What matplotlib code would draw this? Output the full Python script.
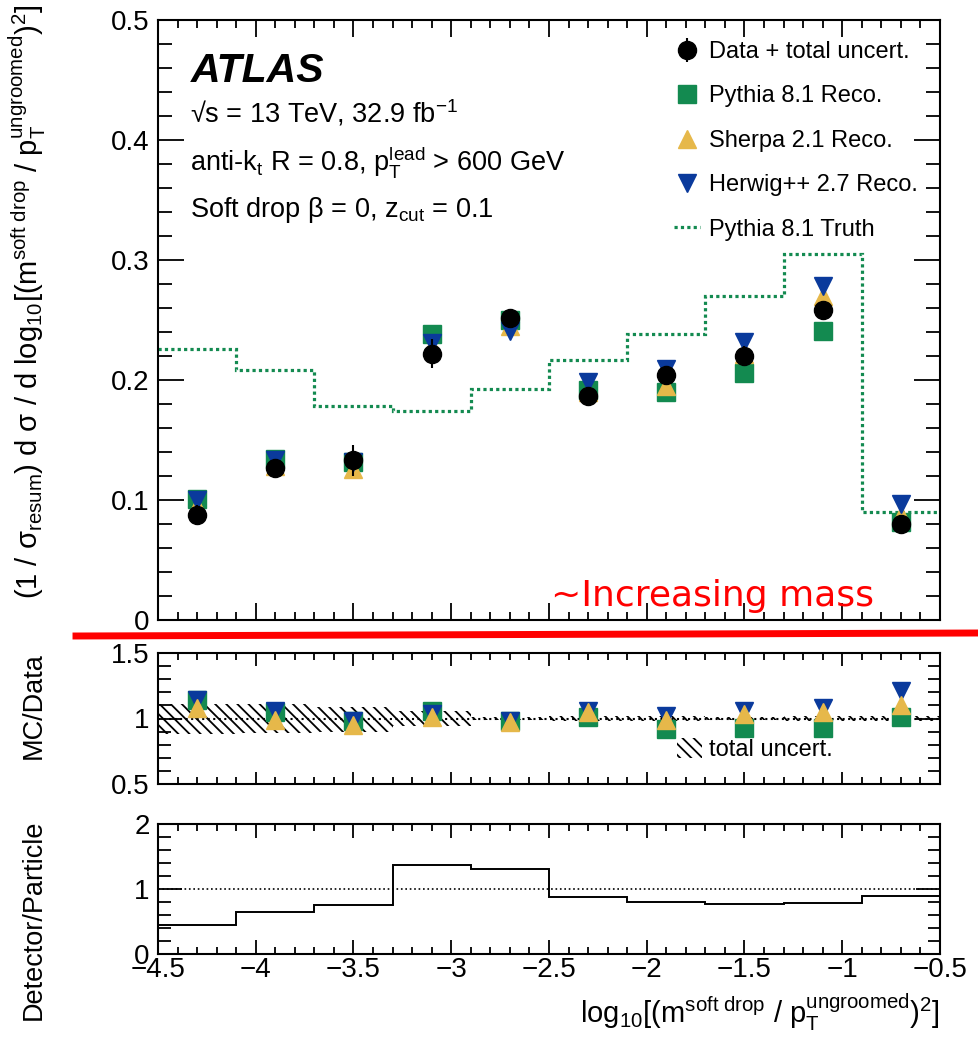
import matplotlib
matplotlib.use('Agg')
import matplotlib.pyplot as plt
from matplotlib.ticker import MultipleLocator, FuncFormatter
from matplotlib.lines import Line2D
from matplotlib.patches import Patch

plt.rcParams['font.family'] = ['Liberation Sans', 'DejaVu Sans']
plt.rcParams['mathtext.fontset'] = 'custom'
plt.rcParams['mathtext.rm'] = 'Liberation Sans'
plt.rcParams['mathtext.it'] = 'Liberation Sans:italic'
plt.rcParams['mathtext.bf'] = 'Liberation Sans:bold'
plt.rcParams['mathtext.sf'] = 'Liberation Sans'
plt.rcParams['hatch.linewidth'] = 1.3

# bins in log10[(m_sd / pT)^2]
edges = [-4.5, -4.1, -3.7, -3.3, -2.9, -2.5, -2.1, -1.7, -1.3, -0.9, -0.5]
centers = [-4.3, -3.9, -3.5, -3.1, -2.7, -2.3, -1.9, -1.5, -1.1, -0.7]

# top panel: normalised cross section
data = [0.0875, 0.127, 0.133, 0.222, 0.252, 0.187, 0.204, 0.220, 0.258, 0.080]
data_err = [0.008, 0.007, 0.013, 0.012, 0.007, 0.005, 0.007, 0.008, 0.007, 0.003]
pythia = [0.101, 0.134, 0.132, 0.238, 0.250, 0.192, 0.190, 0.206, 0.241, 0.082]
sherpa = [0.095, 0.128, 0.126, 0.228, 0.245, 0.190, 0.195, 0.222, 0.270, 0.0875]
herwig = [0.100, 0.133, 0.132, 0.231, 0.241, 0.198, 0.209, 0.232, 0.278, 0.097]
truth = [0.226, 0.208, 0.178, 0.174, 0.1925, 0.217, 0.238, 0.270, 0.305, 0.090]

# middle panel: MC / Data
r_pythia = [1.14, 1.05, 0.98, 1.06, 0.98, 1.01, 0.92, 0.93, 0.93, 1.01]
r_herwig = [1.14, 1.06, 0.98, 1.035, 0.98, 1.06, 1.02, 1.06, 1.08, 1.21]
r_sherpa = [1.08, 0.985, 0.95, 1.015, 0.97, 1.05, 0.985, 1.035, 1.05, 1.105]
band_hi = [1.11, 1.11, 1.09, 1.06, 1.015, 1.02, 1.02, 1.015, 1.02, 1.02]
band_lo = [0.88, 0.89, 0.90, 0.94, 0.985, 0.98, 0.98, 0.985, 0.98, 0.98]

# bottom panel: detector / particle
det_part = [0.45, 0.645, 0.75, 1.37, 1.31, 0.88, 0.80, 0.77, 0.79, 0.89]

GREEN = '#138a50'
YELLOW = '#e6b84a'
BLUE = '#0a3a9c'

W, H = 979, 1041
fig = plt.figure(figsize=(W / 100, H / 100), dpi=100)


def box(l, t, r, b):
    return [l / W, 1 - b / H, (r - l) / W, (b - t) / H]


def fx(x):
    return x / W


def fy(y):
    return 1 - y / H


fmt = FuncFormatter(lambda v, p: ('%g' % round(v, 3)).replace('-', '\u2212'))


def style(ax, ymaj, ymin, ylen, xlen):
    ax.set_xlim(-4.5, -0.5)
    ax.xaxis.set_major_locator(MultipleLocator(0.5))
    ax.xaxis.set_minor_locator(MultipleLocator(0.1))
    ax.yaxis.set_major_locator(MultipleLocator(ymaj))
    ax.yaxis.set_minor_locator(MultipleLocator(ymin))
    ax.tick_params(which='both', direction='in', top=True, right=True,
                   width=1.3, labelsize=20)
    ax.tick_params(axis='y', which='major', length=ylen[0], pad=6)
    ax.tick_params(axis='y', which='minor', length=ylen[1])
    ax.tick_params(axis='x', which='major', length=xlen[0], pad=2)
    ax.tick_params(axis='x', which='minor', length=xlen[1])
    ax.xaxis.set_major_formatter(fmt)
    ax.yaxis.set_major_formatter(fmt)
    for s in ax.spines.values():
        s.set_linewidth(1.5)


ax1 = fig.add_axes(box(158, 20, 940, 620))
ax2 = fig.add_axes(box(158, 653, 940, 784))
ax3 = fig.add_axes(box(158, 824, 940, 954))

# ---- top panel
style(ax1, 0.1, 0.02, (19, 10), (12, 6))
ax1.set_ylim(0, 0.5)
ax1.tick_params(axis='x', labelbottom=False)
ax1.stairs(truth, edges, baseline=None, color=GREEN, ls=(0, (1, 1)), lw=2.3)
h_py, = ax1.plot(centers, pythia, 's', color=GREEN, ms=12.5)
h_sh, = ax1.plot(centers, sherpa, '^', color=YELLOW, ms=12.5)
h_hw, = ax1.plot(centers, herwig, 'v', color=BLUE, ms=12.5)
h_dat = ax1.errorbar(centers, data, yerr=data_err, fmt='o', color='k', ms=13,
                     elinewidth=1.5, capsize=0)
h_tr = Line2D([], [], color=GREEN, ls=(0, (1, 1)), lw=2.3)

ax1.legend([h_dat, h_py, h_sh, h_hw, h_tr],
           ['Data + total uncert.', 'Pythia 8.1 Reco.', 'Sherpa 2.1 Reco.',
            'Herwig++ 2.7 Reco.', 'Pythia 8.1 Truth'],
           loc='upper left', bbox_to_anchor=(fx(674), fy(41)),
           bbox_transform=fig.transFigure, frameon=False, fontsize=17,
           handlelength=1.1, handletextpad=0.4, labelspacing=0.95,
           borderpad=0, borderaxespad=0)

fig.text(fx(191), fy(82), 'ATLAS', fontsize=29.5, fontweight='bold',
         fontstyle='italic', va='baseline')
fig.text(fx(190), fy(123), '\u221As = 13 TeV, 32.9 fb$^{\\mathrm{-1}}$',
         fontsize=19.5, va='baseline')
fig.text(fx(190), fy(170),
         r'anti-k$_{\mathrm{t}}$ R = 0.8, p$_{\mathrm{T}}^{\mathrm{lead}}$ > 600 GeV',
         fontsize=19.5, va='baseline')
fig.text(fx(190), fy(217), 'Soft drop \u03b2 = 0, z$_{\\mathrm{cut}}$ = 0.1',
         fontsize=19.5, va='baseline')

fig.text(fx(27), fy(5),
         r'(1 / σ$_{\mathrm{resum}}$) d σ / d log$_{\mathrm{10}}$[(m$^{\mathrm{soft\ drop}}$'
         r' / p$_{\mathrm{T}}^{\mathrm{ungroomed}}$)$^{\mathrm{2}}$]',
         fontsize=21, rotation=90, ha='center', va='top')

# ---- ratio panel
style(ax2, 0.5, 0.1, (17, 9), (9, 5))
ax2.set_ylim(0.5, 1.5)
ax2.tick_params(axis='x', labelbottom=False)
ax2.stairs(band_hi, edges, baseline=band_lo, fill=True, facecolor='none',
           edgecolor='k', hatch='\\\\\\', lw=0)
ax2.axhline(1, color='k', ls=':', lw=1.5)
ax2.plot(centers, r_pythia, 's', color=GREEN, ms=12.5)
ax2.plot(centers, r_herwig, 'v', color=BLUE, ms=12.5)
ax2.plot(centers, r_sherpa, '^', color=YELLOW, ms=12.5)
ax2.legend([Patch(facecolor='none', edgecolor='k', hatch='\\\\\\', lw=0)],
           ['total uncert.'], loc='upper left', bbox_to_anchor=(fx(677), fy(738)),
           bbox_transform=fig.transFigure, frameon=False, fontsize=17,
           handlelength=1.05, handleheight=0.95, handletextpad=0.3,
           borderpad=0, borderaxespad=0)
fig.text(fx(34), fy(652), 'MC/Data', fontsize=19.5, rotation=90,
         ha='center', va='top')

# ---- detector / particle panel
style(ax3, 1, 0.2, (17, 9), (10, 5))
ax3.set_ylim(0, 2)
ax3.stairs(det_part, edges, baseline=None, color='k', lw=1.4)
ax3.axhline(1, color='k', ls=':', lw=1.2)
fig.text(fx(34), fy(820), 'Detector/Particle', fontsize=19.5, rotation=90,
         ha='center', va='top')
fig.text(fx(940), fy(1023),
         r'log$_{\mathrm{10}}$[(m$^{\mathrm{soft\ drop}}$ / p$_{\mathrm{T}}^{\mathrm{ungroomed}}$)$^{\mathrm{2}}$]',
         fontsize=21, ha='right', va='baseline')

# annotation overlay
fig.add_artist(Line2D([fx(76), fx(979)], [fy(636), fy(633)], color='red',
                      lw=5, transform=fig.transFigure, zorder=10))
fig.text(fx(551), fy(606), '~Increasing mass', color='red', fontsize=26,
         family=['DejaVu Sans'], va='baseline', zorder=10)

fig.savefig('out.png', dpi=100)
